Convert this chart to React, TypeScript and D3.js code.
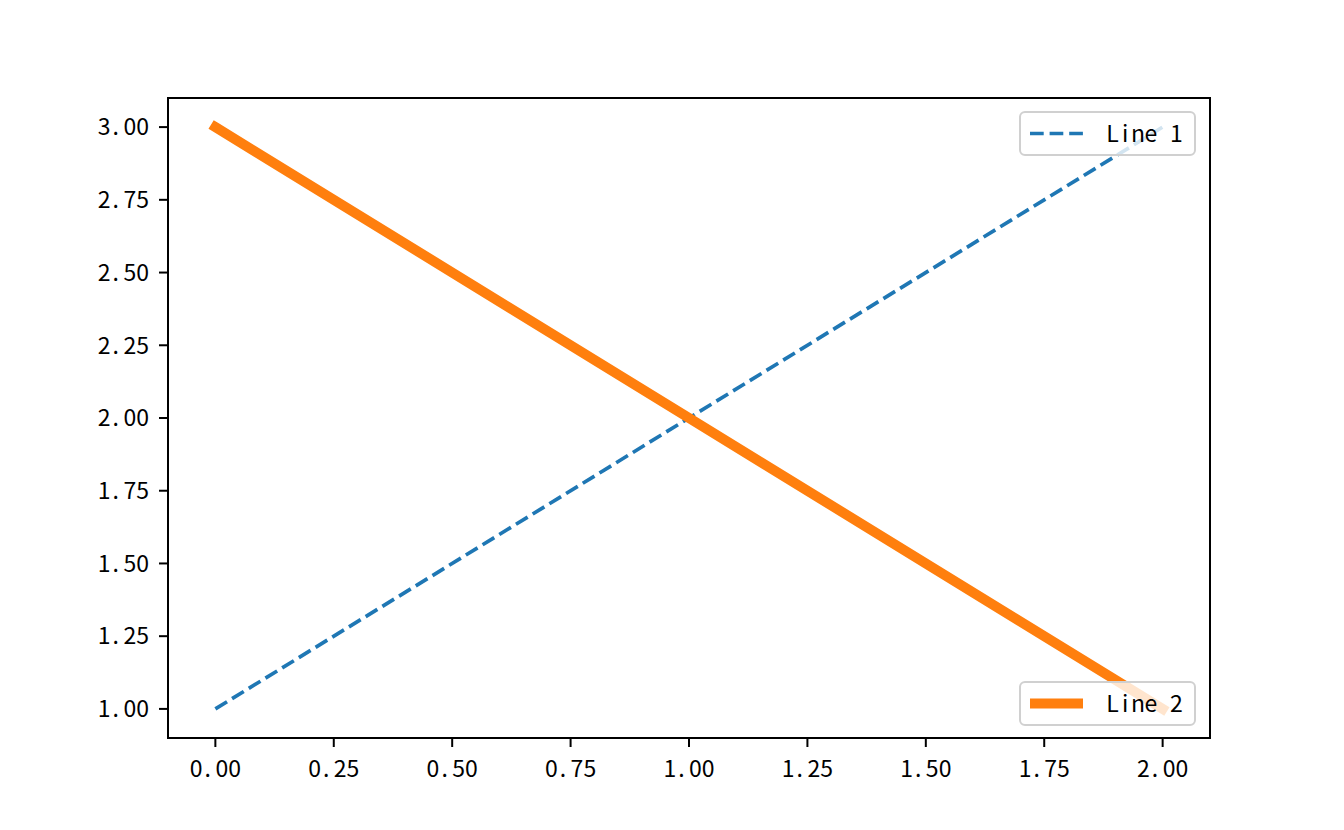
import React from "react";
import * as d3 from "d3";

const xValues = [0, 1, 2];
const line1Values = [1, 2, 3];
const line2Values = [3, 2, 1];
const xTicks = [0, 0.25, 0.5, 0.75, 1, 1.25, 1.5, 1.75, 2];
const yTicks = [1, 1.25, 1.5, 1.75, 2, 2.25, 2.5, 2.75, 3];
const seriesNames = ["Line 1", "Line 2"];

const W = 1344, H = 830;
const L = 168, R = 1210, T = 98, B = 738;
const FONT = "'Noto Sans CJK SC', sans-serif";
const FS = 23;

// monospace-like rendering: each character placed in a 12.8px cell (SimHei-style half-width)
function MonoText({ x, y, text, anchor }: { x: number; y: number; text: string; anchor: "start" | "middle" | "end" }) {
  const cw = 12.8;
  const total = cw * text.length;
  const x0 = anchor === "start" ? x : anchor === "middle" ? x - total / 2 : x - total;
  return (
    <text y={y} dy="0.36em" fontFamily={FONT} fontSize={FS}>
      {text.split("").map((c, i) => (
        <tspan key={i} x={c === "." ? x0 + i * cw + 2 : x0 + i * cw + cw / 2} textAnchor={c === "." ? "start" : "middle"}>{c}</tspan>
      ))}
    </text>
  );
}

export default function App() {
  const x = d3.scaleLinear().domain([-0.1, 2.1]).range([L, R]);
  const y = d3.scaleLinear().domain([0.9, 3.1]).range([B, T]);
  const line = d3.line<number>().x((_, i) => x(xValues[i])).y((d) => y(d));
  const fmt = d3.format(".2f");
  return (
    <svg width={W} height={H} style={{ position: "absolute", left: 0, top: 0, background: "#fff" }}>
      <rect x={0} y={0} width={W} height={H} fill="#fff" />
      <path d={line(line1Values) || ""} fill="none" stroke="#1f77b4" strokeWidth={3.7} strokeDasharray="13.7 5.9" />
      <path d={line(line2Values) || ""} fill="none" stroke="#ff7f0e" strokeWidth={10} strokeLinecap="square" />
      <rect x={L} y={T} width={R - L} height={B - T} fill="none" stroke="#000" strokeWidth={2} />
      {xTicks.map((t) => (
        <g key={"x" + t}>
          <line x1={x(t)} x2={x(t)} y1={B} y2={B + 9} stroke="#000" strokeWidth={2} />
          <MonoText x={x(t)} y={B + 31} text={fmt(t)} anchor="middle" />
        </g>
      ))}
      {yTicks.map((t) => (
        <g key={"y" + t}>
          <line x1={L - 9} x2={L} y1={y(t)} y2={y(t)} stroke="#000" strokeWidth={2} />
          <MonoText x={L - 19} y={y(t)} text={fmt(t)} anchor="end" />
        </g>
      ))}
      {[
        { name: seriesNames[0], top: 112, color: "#1f77b4", dash: "13.7 5.9", w: 3.7 },
        { name: seriesNames[1], top: 682, color: "#ff7f0e", dash: undefined, w: 10 },
      ].map((lg) => (
        <g key={lg.name}>
          <rect x={1020} y={lg.top} width={175} height={43} rx={5} fill="#fff" fillOpacity={0.8} stroke="#d0d0d0" strokeWidth={2} />
          <line x1={1030} x2={1083} y1={lg.top + 21.5} y2={lg.top + 21.5} stroke={lg.color} strokeWidth={lg.w} strokeDasharray={lg.dash} />
          <MonoText x={1106} y={lg.top + 21.5} text={lg.name} anchor="start" />
        </g>
      ))}
    </svg>
  );
}
